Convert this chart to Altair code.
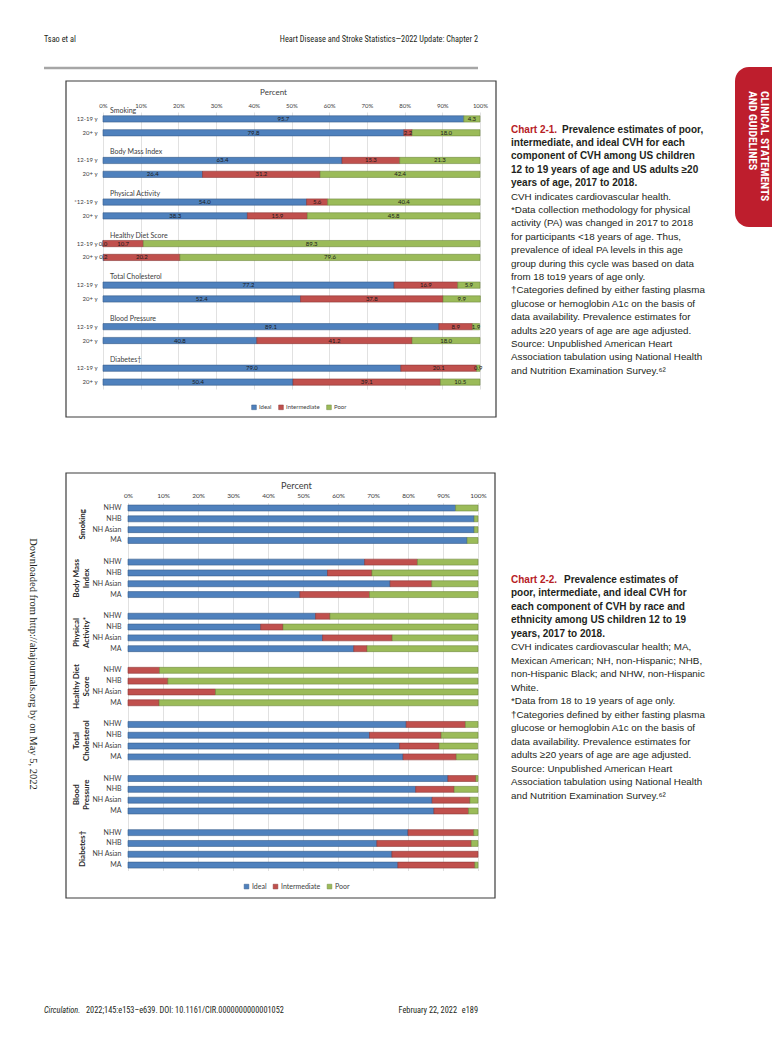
import altair as alt
import pandas as pd

FONT = "Lato"
CAP_FONT = "Liberation Sans"
NARROW = "Liberation Sans Narrow, Roboto Condensed, DejaVu Sans Condensed, Liberation Sans, sans-serif"

# ---------------- Chart 2-1 data ----------------
groups1 = ["Smoking", "Body Mass Index", "Physical Activity", "Healthy Diet Score",
           "Total Cholesterol", "Blood Pressure", "Diabetes†"]
age_labels1 = ["12-19 y", "20+ y", "12-19 y", "20+ y", "*12-19 y", "20+ y", "12-19 y", "20+ y",
               "12-19 y", "20+ y", "12-19 y", "20+ y", "12-19 y", "20+ y"]
ideal1 = [95.7, 79.8, 63.4, 26.4, 54.0, 38.3, 0.0, 0.2, 77.2, 52.4, 89.1, 40.8, 79.0, 50.4]
intermediate1 = [None, 2.2, 15.3, 31.2, 5.6, 15.9, 10.7, 20.2, 16.9, 37.8, 8.9, 41.2, 20.1, 39.1]
poor1 = [4.3, 18.0, 21.3, 42.4, 40.4, 45.8, 89.3, 79.6, 5.9, 9.9, 1.9, 18.0, 0.9, 10.5]

# ---------------- Chart 2-2 data ----------------
groups2 = ["Smoking", "Body Mass\nIndex", "Physical\nActivity*", "Healthy Diet\nScore",
           "Total\nCholesterol", "Blood\nPressure", "Diabetes†"]
races2 = ["NHW", "NHB", "NH Asian", "MA"]
ideal2 = [93.6, 98.9, 98.9, 96.9,
          67.6, 57.0, 74.9, 49.1,
          53.6, 37.9, 55.6, 64.5,
          None, None, None, None,
          79.5, 69.0, 77.6, 78.6,
          91.4, 82.2, 86.9, 87.4,
          80.0, 71.1, 75.4, 77.1]
intermediate2 = [None, None, None, None,
                 15.1, 12.7, 11.9, 19.9,
                 4.1, 6.4, 19.9, 3.8,
                 9.0, 11.4, 25.0, 8.9,
                 16.9, 20.5, 11.3, 15.2,
                 8.0, 11.0, 10.8, 9.9,
                 18.8, 27.0, 24.6, 22.0]
poor2 = [6.4, 1.1, 1.1, 3.1,
         17.3, 30.3, 13.2, 31.0,
         42.3, 55.7, 24.5, 31.7,
         91.0, 88.6, 75.0, 91.1,
         3.6, 10.5, 11.0, 6.2,
         0.6, 6.8, 2.3, 2.7,
         1.2, 1.9, None, 0.9]

cats = ["Ideal", "Intermediate", "Poor"]
colors = ["#4F81BD", "#C0504D", "#9BBB59"]
edges = ["#385D8A", "#8C3836", "#71893F"]
ticks = [0, 10, 20, 30, 40, 50, 60, 70, 80, 90, 100]

# ---------------- page text ----------------
cap1_bold = ["intermediate, and ideal CVH for each",
             "component of CVH among US children",
             "12 to 19 years of age and US adults ≥20",
             "years of age, 2017 to 2018."]
cap1_reg = ["CVH indicates cardiovascular health.",
            "*Data collection methodology for physical",
            "activity (PA) was changed in 2017 to 2018",
            "for participants <18 years of age. Thus,",
            "prevalence of ideal PA levels in this age",
            "group during this cycle was based on data",
            "from 18 to19 years of age only.",
            "†Categories defined by either fasting plasma",
            "glucose or hemoglobin A1c on the basis of",
            "data availability. Prevalence estimates for",
            "adults ≥20 years of age are age adjusted.",
            "Source: Unpublished American Heart",
            "Association tabulation using National Health",
            "and Nutrition Examination Survey.⁶²"]
cap2_bold = ["poor, intermediate, and ideal CVH for",
             "each component of CVH by race and",
             "ethnicity among US children 12 to 19",
             "years, 2017 to 2018."]
cap2_reg = ["CVH indicates cardiovascular health; MA,",
            "Mexican American; NH, non-Hispanic; NHB,",
            "non-Hispanic Black; and NHW, non-Hispanic",
            "White.",
            "*Data from 18 to 19 years of age only.",
            "†Categories defined by either fasting plasma",
            "glucose or hemoglobin A1c on the basis of",
            "data availability. Prevalence estimates for",
            "adults ≥20 years of age are age adjusted.",
            "Source: Unpublished American Heart",
            "Association tabulation using National Health",
            "and Nutrition Examination Survey.⁶²"]

# ---------------- build tables ----------------
rec1, dom1, tit1 = [], [], []
for gi, g in enumerate(groups1):
    if gi:
        dom1.append(f"gap{gi}")
    for ai in range(2):
        k = 2 * gi + ai
        key = f"{g}|{age_labels1[k]}"
        dom1.append(key)
        if ai == 0:
            tit1.append({"row": key, "title": g})
        for ci, arr in enumerate([ideal1, intermediate1, poor1]):
            if arr[k] is not None:
                rec1.append({"row": key, "cat": cats[ci], "ord": ci, "value": arr[k]})
df1 = pd.DataFrame(rec1)
dft1 = pd.DataFrame(tit1)

rec2, dom2, tit2 = [], [], []
for gi, g in enumerate(groups2):
    if gi:
        dom2.append(f"gap{gi}")
    for ri, r in enumerate(races2):
        k = 4 * gi + ri
        key = f"{gi}|{r}"
        dom2.append(key)
        if ri == 1:
            tit2.append({"row": key, "title": g, "lines": g.count("\n") + 1})
        for ci, arr in enumerate([ideal2, intermediate2, poor2]):
            if arr[k] is not None:
                rec2.append({"row": key, "cat": cats[ci], "ord": ci, "value": arr[k]})
df2 = pd.DataFrame(rec2)
dft2 = pd.DataFrame(tit2)

label_expr = "indexof(datum.label, '|') >= 0 ? split(datum.label, '|')[1] : ''"
color_scale = alt.Scale(domain=cats, range=colors)
stroke_scale = alt.Scale(domain=cats, range=edges)


def stacked_chart(df, dft, dom, xr, yr, pin, x_off, y_off, tick_fs, title_x, title_y, title_fs,
                  ylab_fs, ylab_pad, leg_x, leg_y, leg_fs, with_labels, top_titles):
    X = alt.Scale(domain=[0, 100], range=xr, nice=False, zero=False)
    Y = alt.Scale(domain=dom, range=yr, paddingInner=pin, paddingOuter=pin / 2)
    AX = alt.Axis(
        orient="top", offset=x_off, values=ticks, labelExpr="datum.value + '%'",
        domain=False, ticks=False, grid=True, gridColor="#D9D9D9", gridWidth=0.8,
        labelFont=FONT, labelFontSize=tick_fs, labelColor="#404040", labelPadding=4,
        labelFlush=False, title="Percent", titleFont=FONT, titleFontSize=title_fs,
        titleFontWeight="normal", titleColor="#404040", titleX=title_x, titleY=title_y,
        titleBaseline="middle", titleAlign="center")
    AY = alt.Axis(
        orient="left", offset=y_off, domain=False, ticks=False, grid=False,
        labelExpr=label_expr, labelFont=FONT, labelFontSize=ylab_fs,
        labelColor="#404040", labelPadding=ylab_pad, title=None)
    base = alt.Chart(df).transform_stack(
        stack="value", groupby=["row"], as_=["v0", "v1"],
        sort=[alt.SortField("ord", order="ascending")])
    bars = base.mark_bar(strokeWidth=0.6).encode(
        x=alt.X("v0:Q", scale=X, axis=AX),
        x2="v1:Q",
        y=alt.Y("row:N", scale=Y, axis=AY),
        color=alt.Color("cat:N", scale=color_scale, legend=alt.Legend(
            orient="none", legendX=leg_x, legendY=leg_y, direction="horizontal", title=None,
            labelFont=FONT, labelFontSize=leg_fs, labelColor="#404040", symbolType="square",
            symbolSize=22, symbolStrokeWidth=0.5, columnPadding=5, labelOffset=2, padding=0)),
        stroke=alt.Stroke("cat:N", scale=stroke_scale, legend=None),
    )
    layers = [bars]
    if with_labels:
        labs = base.transform_calculate(
            mid="(datum.v0 + datum.v1) / 2", lab="format(datum.value, '.1f')"
        ).mark_text(font=FONT, fontSize=6, color="#1a1a1a").encode(
            x=alt.X("mid:Q", scale=X, axis=AX),
            y=alt.Y("row:N", scale=Y, axis=AY),
            text="lab:N")
        layers.append(labs)
    if top_titles:
        layers.append(alt.Chart(dft).transform_calculate(x0="0").mark_text(
            align="left", dx=7, dy=-8, font=FONT, fontSize=7, color="#404040"
        ).encode(x=alt.X("x0:Q", scale=X, axis=AX), y=alt.Y("row:N", scale=Y, axis=AY),
                 text="title:N"))
    else:
        for n, xpos in ((1, 75), (2, 69)):
            layers.append(alt.Chart(dft).transform_filter(f"datum.lines == {n}").mark_text(
                angle=270, dx=-5.4, align="center", baseline="middle", font=FONT, fontSize=8,
                fontWeight="bold", color="#262626", lineBreak="\n", lineHeight=10
            ).encode(x=alt.value(xpos), y=alt.Y("row:N", scale=Y, axis=AY), text="title:N"))
    return alt.layer(*layers)


chart1 = stacked_chart(df1, dft1, dom1, [95, 472], [104, 381], 0.55, -104, -95, 6, 265, -20, 8,
                       6, 6, 243, 396, 6, True, True)
chart2 = stacked_chart(df2, dft2, dom2, [120, 470], [494.6, 862.5], 0.45, -494.6, -120, 6.5, 288,
                       -17.6, 9.2, 7, 7, 235, 875, 7, False, False)


def one():
    return alt.Chart(pd.DataFrame({"a": [0]}))


def box(x0, x1, y0, y1):
    return one().mark_rect(filled=False, stroke="#3C3C3C", strokeWidth=1.2).encode(
        x=alt.value(x0), x2=alt.value(x1), y=alt.value(y0), y2=alt.value(y1))


def text(lines, x, y, size, color="#231F20", weight="normal", font=CAP_FONT, align="left",
         baseline="alphabetic", angle=0, lh=None, style="normal"):
    kw = dict(align=align, baseline=baseline, font=font, fontSize=size, color=color,
              fontWeight=weight, fontStyle=style)
    if angle:
        kw["angle"] = angle
    if lh:
        kw["lineHeight"] = lh
        kw["lineBreak"] = "\n"
    return alt.Chart(pd.DataFrame({"t": ["\n".join(lines)]})).mark_text(**kw).encode(
        text="t:N", x=alt.value(x), y=alt.value(y))


RED = "#B72025"
L1, L2 = 13.4, 13.5
y1b, y2b = 124.5, 574.5
texts = [
    text(["Tsao et al"], 36, 33.5, 8.3, font=NARROW),
    text(["Heart Disease and Stroke Statistics—2022 Update: Chapter 2"], 470, 33.5, 8.3,
         font=NARROW, align="right"),
    one().mark_rule(stroke="#A6A6A6", strokeWidth=2.5).encode(
        x=alt.value(36), x2=alt.value(470), y=alt.value(60)),
    one().mark_rect(fill="#BE1E2D", cornerRadiusTopLeft=14, cornerRadiusBottomLeft=14).encode(
        x=alt.value(727), x2=alt.value(790), y=alt.value(59), y2=alt.value(219)),
    text(["CLINICAL STATEMENTS"], 756, 83, 11.5, color="white", weight="bold", font=NARROW,
         baseline="middle", angle=90),
    text(["AND GUIDELINES"], 744, 83, 11.5, color="white", weight="bold", font=NARROW,
         baseline="middle", angle=90),
    text(["Chart 2-1."], 503, y1b, 10, color=RED, weight="bold"),
    text(["Prevalence estimates of poor,"], 554, y1b, 10, weight="bold"),
    text(cap1_bold, 503, y1b + L1, 10, weight="bold", lh=L1),
    text(cap1_reg, 503, y1b + 5 * L1, 9.8, lh=L1),
    text(["Chart 2-2."], 503, y2b, 10, color=RED, weight="bold"),
    text(["Prevalence estimates of"], 556, y2b, 10, weight="bold"),
    text(cap2_bold, 503, y2b + L2, 10, weight="bold", lh=L2),
    text(cap2_reg, 503, y2b + 5 * L2, 9.8, lh=L2),
    text(["Downloaded from http://ahajournals.org by on May 5, 2022"], 25, 656, 10.5,
         font="Liberation Serif", align="center", baseline="middle", angle=90),
    text(["Circulation."], 36, 1004.5, 8.3, font=NARROW, style="italic"),
    text(["2022;145:e153–e639. DOI: 10.1161/CIR.0000000000001052"], 78, 1004.5, 8.3, font=NARROW),
    text(["February 22, 2022"], 449, 1004.5, 8.3, font=NARROW, align="right"),
    text(["e189"], 470, 1004.5, 8.3, font=NARROW, align="right"),
]

chart = alt.layer(
    box(58, 488, 73, 409), chart1, box(58, 487, 465, 890), chart2, *texts
).resolve_scale(
    x="independent", y="independent", color="independent", stroke="independent"
).properties(
    width=764, height=1028, autosize=alt.AutoSizeParams(type="none"), padding=0,
    background="white"
).configure_view(strokeWidth=0)

chart.save("out.html", embed_options={"renderer": "svg", "actions": False})
